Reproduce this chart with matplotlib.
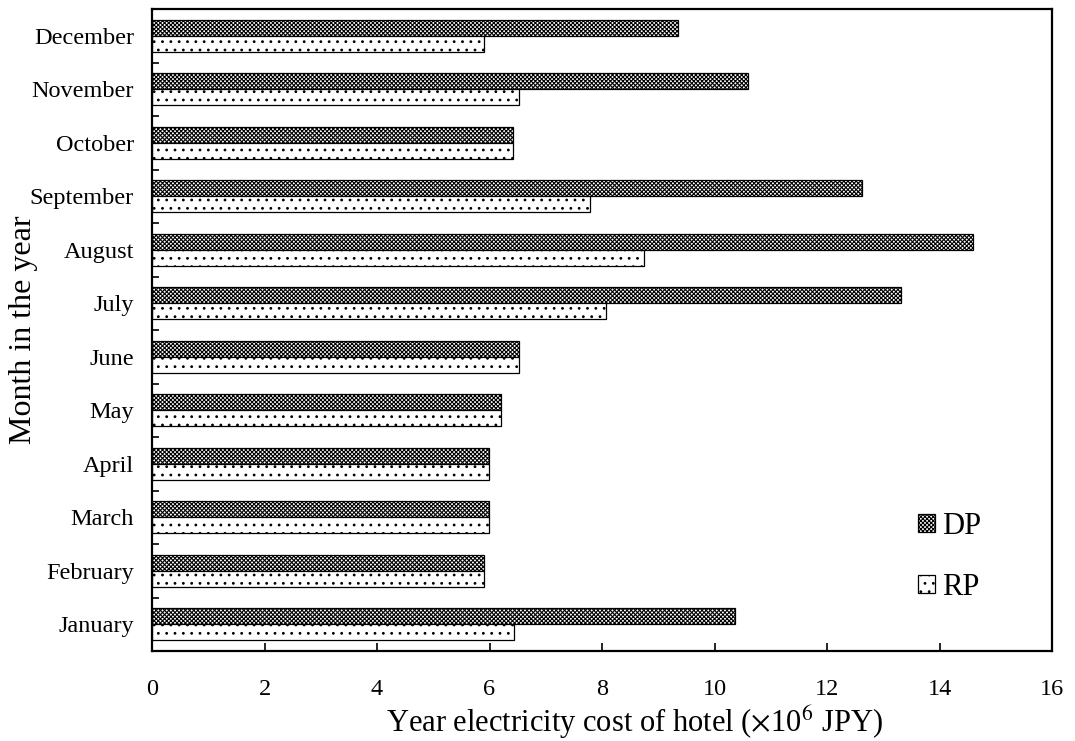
import numpy as np
import matplotlib
matplotlib.use('Agg')
import matplotlib.pyplot as plt

# 数据
months = ['January', 'February', 'March', 'April', 'May', 'June',
          'July', 'August', 'September', 'October', 'November', 'December']
dp_cost = [10.36, 5.90, 5.99, 5.99, 6.20, 6.53, 13.32, 14.60, 12.63, 6.42, 10.59, 9.35]
rp_cost = [6.44, 5.90, 5.99, 5.99, 6.20, 6.53, 8.07, 8.74, 7.79, 6.42, 6.53, 5.91]
x_ticks = [0, 2, 4, 6, 8, 10, 12, 14, 16]

plt.rcParams['font.family'] = ['Liberation Serif', 'DejaVu Serif']
plt.rcParams['mathtext.fontset'] = 'stix'
plt.rcParams['hatch.linewidth'] = 0.8

fig = plt.figure(figsize=(10.75, 7.41), dpi=100)
ax = fig.add_axes([152 / 1075, 1 - 651 / 741, 900 / 1075, 642 / 741])

y = np.arange(len(months))
h = 0.3
ax.barh(y + h / 2, dp_cost, height=h, color='white', edgecolor='black',
        hatch='xxxxxxxx', linewidth=0.9, label='DP')
ax.barh(y - h / 2, rp_cost, height=h, color='white', edgecolor='black',
        hatch='..', linewidth=0.9, label='RP')

ax.set_xlim(0, 16)
ax.set_ylim(-0.5, len(months) - 0.5)
ax.set_xticks(x_ticks)
ax.set_xticklabels([str(t) for t in x_ticks])
ax.set_yticks(y)
ax.set_yticklabels(months)
ax.set_yticks(np.arange(-0.5, len(months)), minor=True)

ax.tick_params(axis='x', direction='in', length=6, width=1.2, labelsize=17.5, pad=20)
ax.tick_params(axis='y', which='major', length=0, labelsize=17.5, pad=13)
ax.tick_params(axis='y', which='minor', direction='in', length=5, width=1.2)

for s in ax.spines.values():
    s.set_linewidth(1.6)

ax.set_xlabel(r'Year electricity cost of hotel ($\times$10$^6$ JPY)', fontsize=22)
ax.set_ylabel('Month in the year', fontsize=23)
ax.xaxis.set_label_coords((634 - 152) / 900, -(722 - 651) / 642, transform=ax.transAxes)
ax.yaxis.set_label_coords(-(152 - 24) / 900, 0.5)
ax.xaxis.label.set_va('center')
ax.yaxis.label.set_va('center')

ax.legend(loc='upper left', bbox_to_anchor=(918 / 1075, 1 - 512 / 741),
          bbox_transform=fig.transFigure, frameon=False, fontsize=22,
          handlelength=0.55, handleheight=0.55, handletextpad=0.25,
          labelspacing=1.05, borderpad=0, borderaxespad=0)

plt.savefig('out.png', dpi=100)
